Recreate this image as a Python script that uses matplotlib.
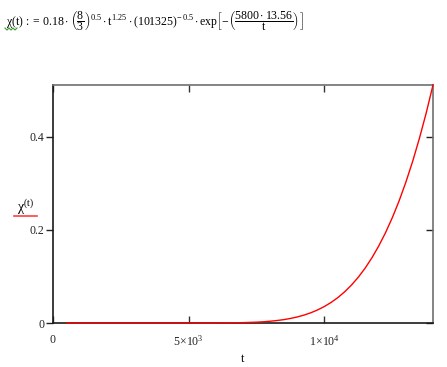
import matplotlib
matplotlib.use("Agg")
import matplotlib.pyplot as plt
from matplotlib.lines import Line2D

plt.rcParams['font.family'] = ['Liberation Serif', 'DejaVu Serif']
plt.rcParams['mathtext.fontset'] = 'custom'
plt.rcParams['mathtext.rm'] = 'Liberation Serif'
plt.rcParams['mathtext.it'] = 'Liberation Serif'
plt.rcParams['mathtext.bf'] = 'Liberation Serif'

# values
t = [500, 1000, 2000, 3000, 4000, 5000, 6000, 6500, 7000, 7500, 7750, 8000,
     8250, 8500, 8750, 9000, 9250, 9500, 9750, 10000, 10250, 10500, 10750,
     11000, 11250, 11500, 11750, 12000, 12250, 12500, 12750, 13000, 13250,
     13500, 13750, 14000]
chi = [0, 0, 0, 0, 0, 0, 0.0001, 0.0003, 0.0008, 0.0018, 0.0026, 0.0038,
       0.0053, 0.0072, 0.0098, 0.0130, 0.0170, 0.0220, 0.0281, 0.0355,
       0.0443, 0.0548, 0.0672, 0.0817, 0.0985, 0.1178, 0.1400, 0.1653,
       0.1938, 0.2260, 0.2620, 0.3023, 0.3470, 0.3966, 0.4510, 0.511]
xticks = [0, 5000, 10000]
xticklabels = ['0', r'$5\!\times\!10^{3}$', r'$1\!\times\!10^{4}$']
yticks = [0, 0.2, 0.4]
yticklabels = ['0', '0.2', '0.4']

fig = plt.figure(figsize=(4.47, 3.67), dpi=100)
ax = fig.add_axes([53 / 447, 44 / 367, 380 / 447, 238 / 367])

ax.plot(t, chi, color='#ff0000', lw=1.0, clip_on=False, zorder=5)
ax.set_xlim(0, 14000)
ax.set_ylim(0, max(chi))

ax.set_xticks(xticks)
ax.set_xticklabels(xticklabels, fontsize=8.5)
ax.set_yticks(yticks)
ax.set_yticklabels(yticklabels, fontsize=8.5)
ax.tick_params(axis='x', direction='in', top=True, length=5, width=1,
               pad=8, colors='#333333', labelcolor='#222222')
ax.tick_params(axis='y', direction='out', length=5, width=1, pad=1,
               colors='#222222', labelcolor='#222222')
ax.tick_params(axis='y', which='both', right=True)
for tk in ax.yaxis.get_major_ticks():
    tk.tick2line.set_marker(matplotlib.markers.TICKLEFT)
for s in ['left', 'bottom']:
    ax.spines[s].set_color('#1a1a1a')
for s in ['top', 'right']:
    ax.spines[s].set_color('#707070')
for s in ax.spines.values():
    s.set_linewidth(1.2)

ax.set_xlabel('t', fontsize=9, labelpad=3)
fig.text(26 / 447, 1 - 207 / 367, r'$\chi^{(t)}$', fontsize=10,
         ha='center', va='center')
fig.add_artist(Line2D([14 / 447, 37 / 447], [1 - 216 / 367, 1 - 216 / 367],
                      color='#ff4040', lw=1.2))

formula = (r'$\chi(t)\,:=\,0.18\cdot\left(\dfrac{8}{3}\right)^{0.5}\cdot t^{1.25}'
           r'\cdot(101325)^{-\,0.5}\cdot\mathrm{exp}\left[-\left(\dfrac{5800\cdot13.56}'
           r'{t}\right)\right]$')
fig.text(6 / 447, 1 - 21 / 367, formula, fontsize=8.5, ha='left', va='center')
zx = [5, 7, 9, 11, 13, 15, 17]
zy = [28, 30, 28, 30, 28, 30, 28]
fig.add_artist(Line2D([v / 447 for v in zx], [1 - v / 367 for v in zy],
                      color='#3a9a2a', lw=0.8))

fig.savefig('out.png', dpi=100)
